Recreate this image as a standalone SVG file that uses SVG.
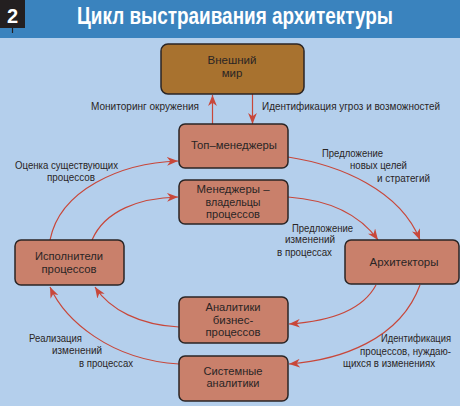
<svg xmlns="http://www.w3.org/2000/svg" width="460" height="406" viewBox="0 0 460 406">
<defs>
<style>
.box{fill:#c9806b;stroke:#2a2525;stroke-width:1.5}
.brown{fill:#a8722f;stroke:#2a2525;stroke-width:1.5}
.bt{font-family:"Liberation Sans",Arial,sans-serif;font-size:11.5px;fill:#2a2525;text-anchor:middle}
.lb{font-family:"Liberation Sans",Arial,sans-serif;font-size:10.5px;fill:#2a2525}
.c{fill:none;stroke:#c8473a;stroke-width:1.2}
</style>
<marker id="ah" viewBox="0 0 10 8" refX="10" refY="4" markerWidth="11" markerHeight="9" markerUnits="userSpaceOnUse" orient="auto">
<path d="M0,0 L10,4 L0,8 L3,4 z" fill="#c8473a"/>
</marker>
</defs>
<rect x="0" y="0" width="460" height="406" fill="#b4cfec"/>
<rect x="0" y="0" width="460" height="38" fill="#3a83be"/>
<rect x="0" y="0" width="25" height="28" fill="#231f20"/>
<line x1="12.5" y1="28" x2="12.5" y2="33" stroke="#231f20" stroke-width="1.2"/>
<text x="12.5" y="23" font-family="Liberation Sans,Arial,sans-serif" font-weight="bold" font-size="20" fill="#ffffff" text-anchor="middle">2</text>
<text x="77" y="24" font-family="Liberation Sans,Arial,sans-serif" font-weight="bold" font-size="23" fill="#ffffff" textLength="316" lengthAdjust="spacingAndGlyphs">Цикл выстраивания архитектуры</text>

<g id="connectors">
<path class="c" d="M212.5,124 L212.5,95" marker-end="url(#ah)"/>
<path class="c" d="M252.5,94 L252.5,124" marker-end="url(#ah)"/>
<path class="c" d="M288,157 C340,165 400,190 420,240" marker-end="url(#ah)"/>
<path class="c" d="M288,197 C330,200 360,215 378,240" marker-end="url(#ah)"/>
<path class="c" d="M50,240 C60,190 120,163 178,161" marker-end="url(#ah)"/>
<path class="c" d="M92,240 C105,210 140,198 178,197" marker-end="url(#ah)"/>
<path class="c" d="M376,285 C360,315 320,322 289,324" marker-end="url(#ah)"/>
<path class="c" d="M420,285 C400,340 340,360 289,364" marker-end="url(#ah)"/>
<path class="c" d="M179,327 C140,325 110,310 95,287" marker-end="url(#ah)"/>
<path class="c" d="M179,364 C110,360 65,320 50,287" marker-end="url(#ah)"/>
</g>

<g id="labels">
<text class="lb" x="199" y="110" text-anchor="end" textLength="108" lengthAdjust="spacingAndGlyphs">Мониторинг окружения</text>
<text class="lb" x="262" y="110" textLength="178" lengthAdjust="spacingAndGlyphs">Идентификация угроз и возможностей</text>
<text class="lb" x="15" y="169" textLength="103" lengthAdjust="spacingAndGlyphs">Оценка существующих</text>
<text class="lb" x="47" y="181" textLength="48" lengthAdjust="spacingAndGlyphs">процессов</text>
<text class="lb" x="322" y="157" textLength="61" lengthAdjust="spacingAndGlyphs">Предложение</text>
<text class="lb" x="350" y="169" textLength="57" lengthAdjust="spacingAndGlyphs">новых целей</text>
<text class="lb" x="377" y="182" textLength="53" lengthAdjust="spacingAndGlyphs">и стратегий</text>
<text class="lb" x="292" y="232" textLength="61" lengthAdjust="spacingAndGlyphs">Предложение</text>
<text class="lb" x="285" y="243" textLength="50" lengthAdjust="spacingAndGlyphs">изменений</text>
<text class="lb" x="277" y="256" textLength="55" lengthAdjust="spacingAndGlyphs">в процессах</text>
<text class="lb" x="29" y="342" textLength="53" lengthAdjust="spacingAndGlyphs">Реализация</text>
<text class="lb" x="52" y="354" textLength="50" lengthAdjust="spacingAndGlyphs">изменений</text>
<text class="lb" x="79" y="367" textLength="54" lengthAdjust="spacingAndGlyphs">в процессах</text>
<text class="lb" x="381" y="342" textLength="70" lengthAdjust="spacingAndGlyphs">Идентификация</text>
<text class="lb" x="360" y="355" textLength="91" lengthAdjust="spacingAndGlyphs">процессов, нуждаю-</text>
<text class="lb" x="343" y="367" textLength="92" lengthAdjust="spacingAndGlyphs">щихся в изменениях</text>
</g>

<g id="vneshniy-mir">
<rect class="brown" x="161" y="44" width="143" height="50" rx="7"/>
<text class="bt" x="232" y="64" textLength="49" lengthAdjust="spacingAndGlyphs">Внешний</text>
<text class="bt" x="232" y="77">мир</text>
</g>
<g id="top-managers">
<rect class="box" x="179" y="124" width="109" height="44" rx="6"/>
<text class="bt" x="234" y="148.5" textLength="86" lengthAdjust="spacingAndGlyphs">Топ–менеджеры</text>
</g>
<g id="managers-owners">
<rect class="box" x="179" y="180" width="109" height="44" rx="6"/>
<text class="bt" x="233" y="193" textLength="73" lengthAdjust="spacingAndGlyphs">Менеджеры –</text>
<text class="bt" x="233" y="205.5" textLength="55" lengthAdjust="spacingAndGlyphs">владельцы</text>
<text class="bt" x="233" y="218" textLength="54" lengthAdjust="spacingAndGlyphs">процессов</text>
</g>
<g id="ispolniteli">
<rect class="box" x="15" y="240" width="109" height="45" rx="6"/>
<text class="bt" x="69" y="260" textLength="68" lengthAdjust="spacingAndGlyphs">Исполнители</text>
<text class="bt" x="69" y="272.5" textLength="55" lengthAdjust="spacingAndGlyphs">процессов</text>
</g>
<g id="arkhitektory">
<rect class="box" x="345" y="240" width="114" height="44" rx="6"/>
<text class="bt" x="404" y="265.5" textLength="69" lengthAdjust="spacingAndGlyphs">Архитекторы</text>
</g>
<g id="analitiki-biznes">
<rect class="box" x="179" y="297" width="109" height="46" rx="6"/>
<text class="bt" x="233" y="311" textLength="55" lengthAdjust="spacingAndGlyphs">Аналитики</text>
<text class="bt" x="233" y="323.5">бизнес-</text>
<text class="bt" x="233" y="336" textLength="55" lengthAdjust="spacingAndGlyphs">процессов</text>
</g>
<g id="sistemnye-analitiki">
<rect class="box" x="179" y="356" width="109" height="45" rx="6"/>
<text class="bt" x="233" y="374.5" textLength="59" lengthAdjust="spacingAndGlyphs">Системные</text>
<text class="bt" x="233" y="387" textLength="53" lengthAdjust="spacingAndGlyphs">аналитики</text>
</g>
</svg>
